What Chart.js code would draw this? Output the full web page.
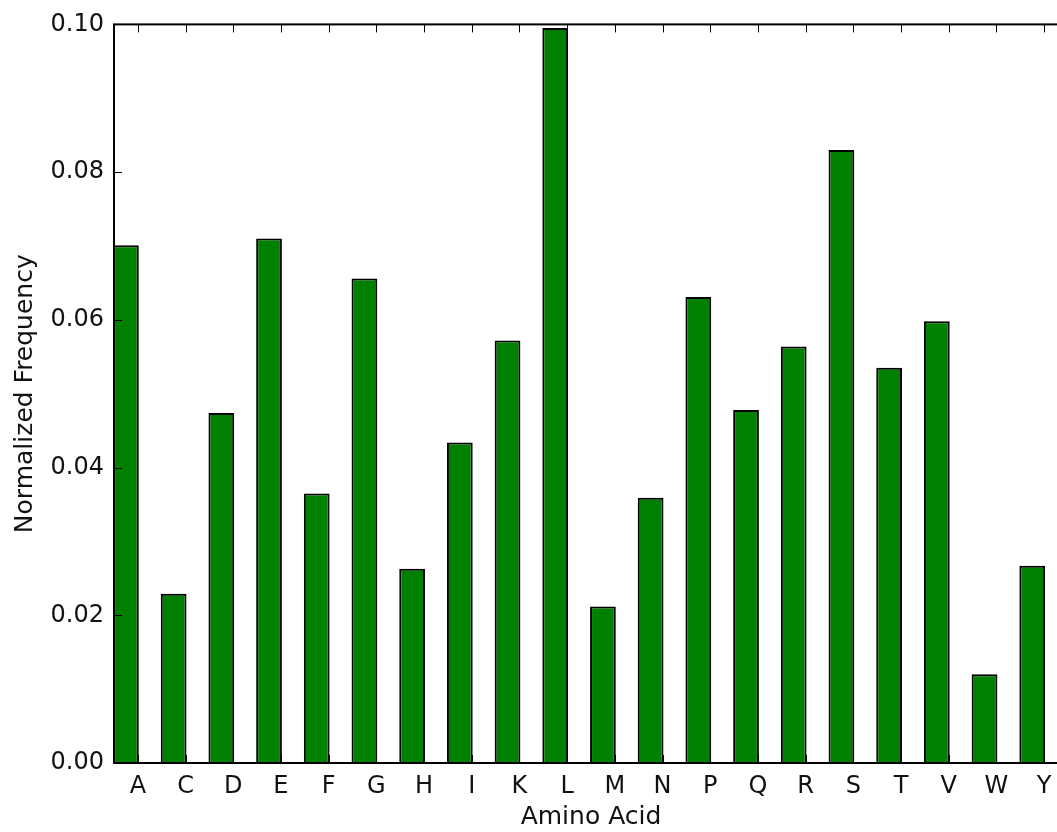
<!DOCTYPE html>
<html>
<head>
<meta charset="utf-8">
<script src="https://cdn.jsdelivr.net/npm/chart.js@4"></script>
<style>
  html, body { margin: 0; padding: 0; background: #fff; overflow: hidden; }
  #wrap { width: 1057px; height: 832px; overflow: hidden; position: relative; }
</style>
</head>
<body>
<div id="wrap"><canvas id="chart" width="1100" height="832"></canvas></div>
<script>
// -------------------------
// Data
// -------------------------
const AMINO_ACIDS = ["A", "C", "D", "E", "F", "G", "H", "I", "K", "L",
                     "M", "N", "P", "Q", "R", "S", "T", "V", "W", "Y"];
const FREQUENCIES = [0.0701, 0.0229, 0.0474, 0.0710, 0.0365, 0.0656, 0.0263, 0.0434, 0.0572, 0.0995,
                     0.0212, 0.0359, 0.0631, 0.0478, 0.0564, 0.0830, 0.0535, 0.0598, 0.0120, 0.0267];
const Y_TICKS = [0.00, 0.02, 0.04, 0.06, 0.08, 0.10];

const BAR_WIDTH = 0.5; // bars sit on [i, i + 0.5], labels on the right edge (old mpl style)
const TICK_LEN = 8;

Chart.defaults.font.family = "'DejaVu Sans', sans-serif";
Chart.defaults.font.size = 24;
Chart.defaults.color = "#111";

// matplotlib classic frame: full box + inward ticks
const mplFrame = {
  id: 'mplFrame',
  afterDatasetsDraw(chart) {
    const { ctx, chartArea: a, scales: { x, y } } = chart;
    const line = (x1, y1, x2, y2) => { ctx.beginPath(); ctx.moveTo(x1, y1); ctx.lineTo(x2, y2); ctx.stroke(); };
    ctx.save();
    ctx.strokeStyle = "#000";
    ctx.lineWidth = 1;
    x.ticks.forEach(t => {
      const px = Math.round(x.getPixelForValue(t.value)) + 0.5;
      line(px, a.top, px, a.top + TICK_LEN);
      line(px, a.bottom, px, a.bottom - TICK_LEN);
    });
    y.ticks.forEach(t => {
      const py = Math.round(y.getPixelForValue(t.value)) + 0.5;
      line(a.left, py, a.left + TICK_LEN, py);
      line(a.right, py, a.right - TICK_LEN, py);
    });
    ctx.lineWidth = 2;
    ctx.strokeRect(a.left, a.top, a.right - a.left, a.bottom - a.top);
    ctx.restore();
  }
};

const points = FREQUENCIES.map((v, i) => ({ x: i + BAR_WIDTH / 2, y: v }));

new Chart(document.getElementById('chart'), {
  type: 'bar',
  data: {
    datasets: [{
      data: points,
      backgroundColor: "#008000",
      borderColor: "#000",
      borderWidth: 2,
      borderSkipped: 'start',
      categoryPercentage: 1,
      barPercentage: BAR_WIDTH + 0.04
    }]
  },
  options: {
    responsive: false,
    animation: false,
    layout: { padding: { top: 24, right: 32, left: 0, bottom: 0 } },
    plugins: { legend: { display: false }, tooltip: { enabled: false } },
    scales: {
      x: {
        type: 'linear',
        min: 0,
        max: AMINO_ACIDS.length,
        offset: false,
        grid: { display: false, drawTicks: false },
        border: { display: false },
        afterBuildTicks: (s) => { s.ticks = AMINO_ACIDS.map((_, i) => ({ value: i + BAR_WIDTH })); },
        afterFit: (s) => { s.height = 69; },
        ticks: {
          padding: 9,
          maxRotation: 0,
          autoSkip: false,
          callback: (v, i) => AMINO_ACIDS[i]
        },
        title: { display: true, text: "Amino Acid", font: { size: 25 }, padding: { top: 0, bottom: 0 } }
      },
      y: {
        min: 0,
        max: 0.1,
        grid: { display: false, drawTicks: false },
        border: { display: false },
        afterBuildTicks: (s) => { s.ticks = Y_TICKS.map(v => ({ value: v })); },
        afterFit: (s) => { s.width = 114; },
        ticks: {
          padding: 10,
          callback: (v) => Number(v).toFixed(2)
        },
        title: { display: true, text: "Normalized Frequency", font: { size: 25 }, padding: { top: 10, bottom: 0 } }
      }
    }
  },
  plugins: [mplFrame]
});
</script>
</body>
</html>
